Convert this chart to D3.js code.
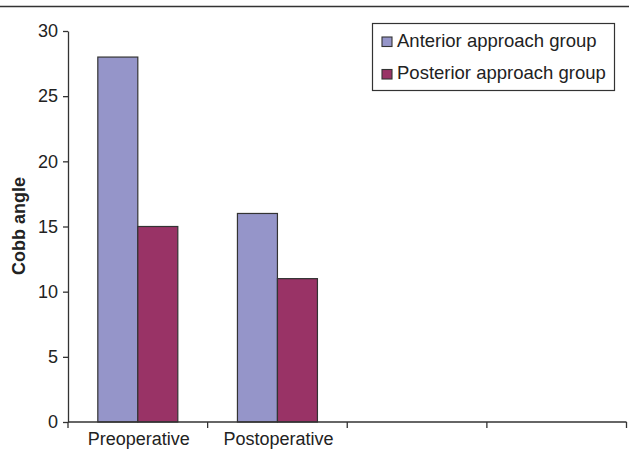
<!DOCTYPE html>
<html><head><meta charset="utf-8">
<script src="https://cdn.jsdelivr.net/npm/d3@7"></script>
<style>body{margin:0;background:#fff}svg{display:block}text{font-family:"Liberation Sans",Arial,sans-serif}</style>
</head><body>
<svg id="c" width="629" height="450"></svg>
<script>
const categories = ["Preoperative", "Postoperative", "", " "];
const seriesNames = ["Anterior approach group", "Posterior approach group"];
const anterior = [28, 16, null, null];
const posterior = [15, 11, null, null];
const yTicks = [0, 5, 10, 15, 20, 25, 30];
const colors = ["#9595c9", "#993366"];

const svg = d3.select("#c");
const x = d3.scaleBand().domain(categories).range([68, 626.5]).paddingInner(0).paddingOuter(0);
const y = d3.scaleLinear().domain([0, 30]).range([422, 31]);
const inner = d3.scaleBand().domain(seriesNames).range([0, x.bandwidth()]).paddingInner(0).paddingOuter(59.5/80/2*1);
// compute padding so that bars are 40px wide: total bandwidth ~139.6, bars 80
inner.paddingOuter((x.bandwidth() - 80) / 2 / 40);

// top rule
svg.append("line").attr("x1", 0).attr("x2", 629).attr("y1", 6.5).attr("y2", 6.5)
  .attr("stroke", "#333").attr("stroke-width", 1.3);

const series = [anterior, posterior];
series.forEach((vals, si) => {
  svg.append("g").selectAll("rect")
    .data(vals.map((v, i) => ({v, c: categories[i]})).filter(d => d.v != null))
    .join("rect")
    .attr("x", d => x(d.c) + inner(seriesNames[si]))
    .attr("width", inner.bandwidth())
    .attr("y", d => y(d.v))
    .attr("height", d => y(0) - y(d.v))
    .attr("fill", colors[si])
    .attr("stroke", "#333").attr("stroke-width", 1.2);
});

// y axis
const ya = svg.append("g").attr("transform", "translate(68,0)")
  .call(d3.axisLeft(y).tickValues(yTicks).tickSize(5).tickPadding(5).tickSizeOuter(0));
ya.selectAll("text").attr("font-size", 18).attr("font-family", "Liberation Sans, Arial, sans-serif").attr("fill", "#222");
ya.selectAll("line, path").attr("stroke", "#333").attr("stroke-width", 1.3);

// x axis
const xa = svg.append("g").attr("transform", "translate(0,422)");
xa.append("line").attr("x1", 68).attr("x2", 626.5).attr("stroke", "#333").attr("stroke-width", 1.3);
const bounds = categories.map(c => x(c)).concat([x(categories[categories.length-1]) + x.bandwidth()]);
xa.selectAll("line.t").data(bounds).join("line").attr("class", "t")
  .attr("x1", d => d).attr("x2", d => d).attr("y1", 0).attr("y2", 6)
  .attr("stroke", "#333").attr("stroke-width", 1.3);
xa.selectAll("text").data(categories).join("text")
  .attr("x", d => x(d) + x.bandwidth() / 2 + 1).attr("y", 23)
  .attr("text-anchor", "middle").attr("font-size", 18).attr("fill", "#222")
  .text(d => d.trim());

// y label
svg.append("text").attr("transform", "translate(25,226) rotate(-90)")
  .attr("text-anchor", "middle").attr("font-size", 18).attr("font-weight", "bold").attr("fill", "#222")
  .text("Cobb angle");

// legend
const lg = svg.append("g");
lg.append("rect").attr("x", 372.5).attr("y", 23.5).attr("width", 242).attr("height", 67)
  .attr("fill", "#fff").attr("stroke", "#333").attr("stroke-width", 1.2);
seriesNames.forEach((n, i) => {
  const yy = 37 + i * 32.5;
  lg.append("rect").attr("x", 382).attr("y", yy).attr("width", 10).attr("height", 9.5)
    .attr("fill", colors[i]).attr("stroke", "#333").attr("stroke-width", 1.1);
  lg.append("text").attr("x", 397).attr("y", yy + 9.5).attr("font-size", 18.5).attr("fill", "#222").text(n);
});
</script>
</body></html>
